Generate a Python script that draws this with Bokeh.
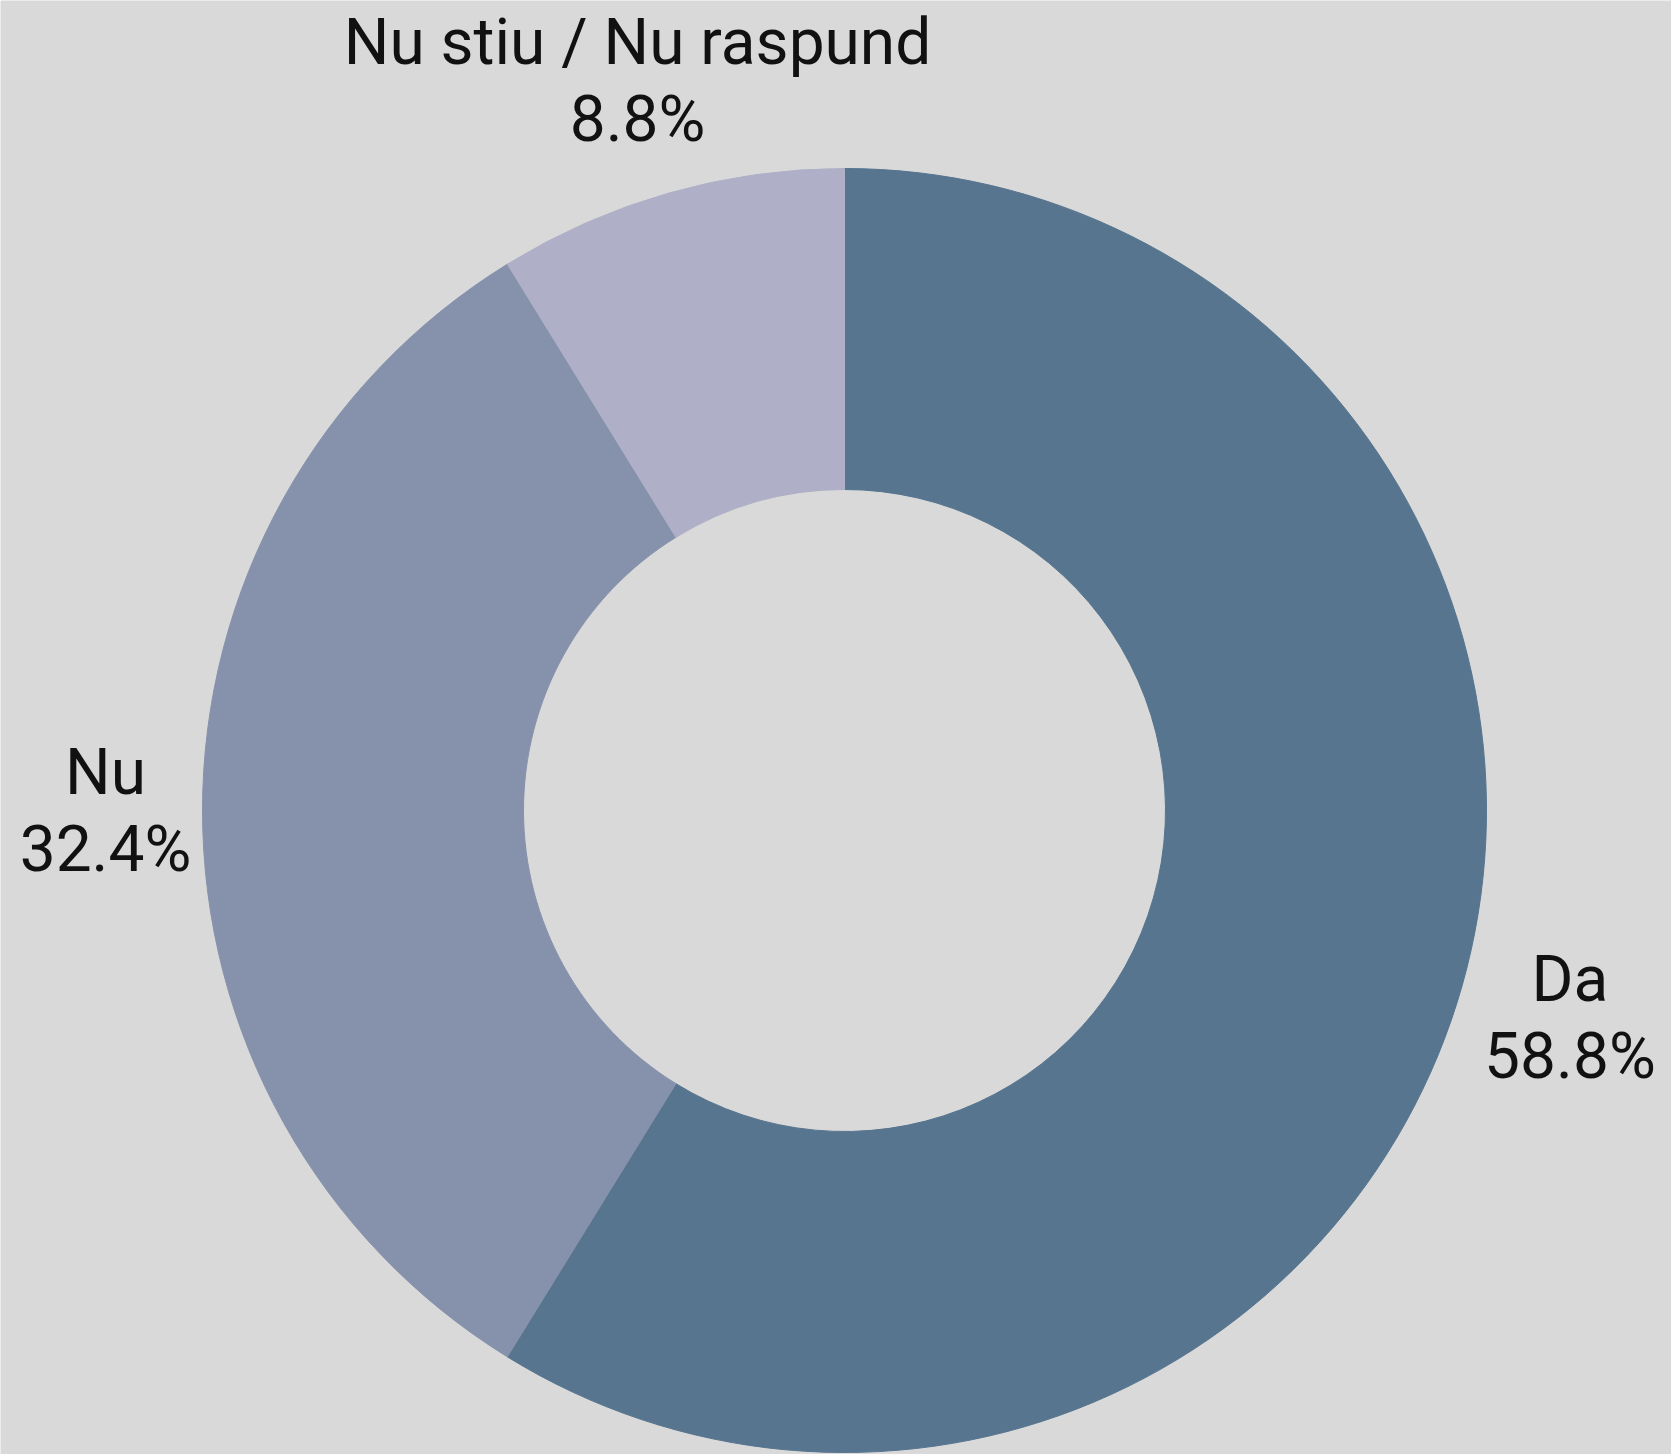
import math
from bokeh.plotting import figure
from bokeh.models import Range1d, ColumnDataSource
from bokeh.core.properties import value
from bokeh.embed import file_html
from bokeh.resources import INLINE

# ---- data ----
categories = ["Da", "Nu", "Nu stiu / Nu raspund"]
percent = [58.8, 32.4, 8.8]
colors = ["#57758f", "#8692ac", "#afb0c7"]
pct_labels = ["58.8%", "32.4%", "8.8%"]

BG = "#d9d9d9"
W, H = 1671, 1454
CX, CY = 844, 1454 - 810
R_OUT, R_IN = 642, 321
R_LABEL = 745
FONT = "Roboto"
FS = "64px"

total = sum(percent)
starts, ends, mids = [], [], []
cur = math.pi / 2
for v in percent:
    span = 2 * math.pi * v / total
    end = cur
    start = cur - span
    starts.append(start)
    ends.append(end)
    mids.append((start + end) / 2)
    cur = start

src = ColumnDataSource(dict(cat=categories, start=starts, end=ends, color=colors))

p = figure(width=W, height=H, output_backend="svg", toolbar_location=None,
           x_range=Range1d(0, W), y_range=Range1d(0, H),
           min_border=0, background_fill_color=BG, border_fill_color=BG)
p.axis.visible = False
p.grid.visible = False
p.outline_line_color = None

p.annular_wedge(x=CX, y=CY, inner_radius=R_IN, outer_radius=R_OUT,
                start_angle="start", end_angle="end", direction="anticlock",
                fill_color="color", line_color="color", line_width=1, source=src)

lx = [CX + R_LABEL * math.cos(a) + 6 - 10 * math.sin(a) for a in mids]
ly = [CY + R_LABEL * math.sin(a) for a in mids]
off1 = [-38 - 13.5 * math.sin(a) for a in mids]
off2 = [o + 77 for o in off1]
lsrc = ColumnDataSource(dict(x=lx, y=ly, name=categories, pct=pct_labels, o1=off1, o2=off2))

p.text(x="x", y="y", text="name", y_offset="o1", source=lsrc,
       text_align="center", text_baseline="alphabetic",
       text_font=value(FONT), text_font_size=FS, text_color="#111111")
p.text(x="x", y="y", text="pct", y_offset="o2", source=lsrc,
       text_align="center", text_baseline="alphabetic",
       text_font=value(FONT), text_font_size=FS, text_color="#111111")

html = file_html(p, INLINE).replace("<body>", '<body style="background-color:#d9d9d9">', 1)
open("out.html", "w").write(html)
